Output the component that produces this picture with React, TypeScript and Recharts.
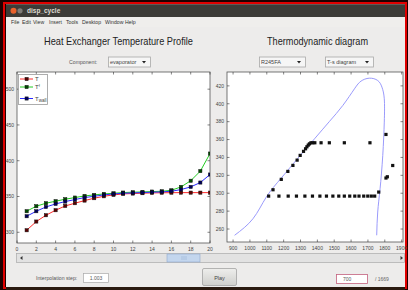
import React from "react";
import { LineChart, Line, XAxis, YAxis, ComposedChart, Scatter, Legend } from "recharts";

// ---------- Heat exchanger temperature profile ----------
const hxPositions = [1, 2, 3, 4, 5, 6, 7, 8, 9, 10, 11, 12, 13, 14, 15, 16, 17, 18, 19, 20];
const tFluid = [302.8, 315, 323.8, 330.8, 336.8, 340.6, 344.3, 347.6, 350.3, 352.2, 353.6, 354.1, 354.6, 355, 355.2, 355.3, 355.4, 355.4, 355.4, 355.4];
const tSecondary = [329.4, 336.4, 340.6, 343.4, 346.2, 348.5, 350.8, 352.2, 353.6, 354.5, 355.5, 356, 356.4, 356.9, 357.3, 358.7, 363.4, 372, 385.5, 410];
const tWall = [322.4, 329.4, 335.4, 339.6, 342.9, 345.7, 348.5, 350.3, 352.2, 353.6, 354.5, 355, 355.5, 356, 356.4, 357.3, 359.7, 363.4, 369.5, 380.7];
const hxXTicks = [0, 2, 4, 6, 8, 10, 12, 14, 16, 18, 20];
const hxYTicks = [300, 350, 400, 450, 500];
const seriesNames = ["T", "Tf", "Twall"];

// ---------- T-s diagram ----------
const domeS = [909, 1018, 1097, 1186, 1285, 1383, 1472, 1551, 1620, 1659, 1708, 1758, 1783, 1797, 1797, 1788, 1772, 1758, 1752];
const domeT = [253, 271.5, 295.7, 317, 339.3, 360.8, 380.3, 398.1, 416.7, 425.3, 428.6, 426, 418.6, 405.5, 379.5, 342.3, 305, 279, 253];
const cycleS = [
  1111, 1172, 1227, 1276, 1326, 1371, 1415, 1454, 1492, 1527, 1560, 1592, 1622, 1647, 1675, 1699, 1720, 1740,
  1137, 1186, 1225, 1255, 1280, 1298, 1318, 1330, 1338, 1346, 1353,
  1362, 1373, 1385, 1422, 1471, 1560, 1712,
  1764, 1807, 1815, 1847, 1807,
];
const cycleT = [
  296.8, 296.8, 296.8, 296.8, 296.8, 296.8, 296.8, 296.8, 296.8, 296.8, 296.8, 296.8, 296.8, 296.8, 296.8, 296.8, 296.8, 296.8,
  303.9, 315.5, 324.4, 331.1, 337, 342.3, 346.8, 349.7, 351.9, 353.8, 355.2,
  356.4, 356.4, 356.4, 356.4, 356.4, 356.4, 356.4,
  301.3, 317, 318.4, 331, 365.7,
];
const tsXTicks = [900, 1000, 1100, 1200, 1300, 1400, 1500, 1600, 1700, 1800, 1900];
const tsYTicks = [260, 280, 300, 320, 340, 360, 380, 400, 420];

const menuItems = ["File", "Edit", "View", "Insert", "Tools", "Desktop", "Window", "Help"];
const menuX = [11, 22, 33, 49, 66, 82, 105, 125];

const hxData = hxPositions.map((p, i) => ({ pos: p, T: tFluid[i], Tf: tSecondary[i], Tw: tWall[i] }));
const domeData = domeS.map((s, i) => ({ s, T: domeT[i] }));
const cycleData = cycleS.map((s, i) => ({ s, T: cycleT[i] }));

const COLORS = ["#ff2a2a", "#22cc22", "#2a2aff"];
const DARK = ["#5a0000", "#004a00", "#00005a"];
const FONT = "'Liberation Sans', Arial, sans-serif";

const makeXTick = (top: number, bottom: number) => (props: any) => {
  const { x, payload } = props;
  return (
    <g>
      <line x1={x} x2={x} y1={bottom} y2={bottom - 2.5} stroke="#333" strokeWidth={0.6} />
      <line x1={x} x2={x} y1={top} y2={top + 2.5} stroke="#333" strokeWidth={0.6} />
      <text x={x} y={bottom + 8} textAnchor="middle" fontSize={5} fill="#444" fontFamily={FONT}>
        {payload.value}
      </text>
    </g>
  );
};

const makeYTick = (left: number, right: number) => (props: any) => {
  const { y, payload } = props;
  return (
    <g>
      <line x1={left} x2={left + 2.5} y1={y} y2={y} stroke="#333" strokeWidth={0.6} />
      <line x1={right} x2={right - 2.5} y1={y} y2={y} stroke="#333" strokeWidth={0.6} />
      <text x={left - 3} y={y + 1.8} textAnchor="end" fontSize={5} fill="#444" fontFamily={FONT}>
        {payload.value}
      </text>
    </g>
  );
};

const squareDot = (i: number) => (props: any) => {
  const { cx, cy, index } = props;
  if (cx == null || cy == null) return <g key={`d${i}-${index}`} />;
  return (
    <rect key={`d${i}-${index}`} x={cx - 1.6} y={cy - 1.6} width={3.2} height={3.2} fill={DARK[i]} stroke="#111" strokeWidth={0.5} />
  );
};

const legendContent = () => (
  <svg width={30} height={31} style={{ display: "block" }}>
    <rect x={0.5} y={0.5} width={29} height={30} fill="#fff" stroke="#999" strokeWidth={0.8} />
    {seriesNames.map((n, i) => {
      const yy = [5, 13, 24.5][i];
      return (
        <g key={n}>
          <line x1={2} x2={15} y1={yy} y2={yy} stroke={COLORS[i]} strokeWidth={1} />
          <rect x={7} y={yy - 1.6} width={3.2} height={3.2} fill={DARK[i]} stroke="#111" strokeWidth={0.5} />
          <text x={17} y={yy + 2} fontSize={6} fill="#444" fontFamily={FONT}>
            T
            {i === 1 ? <tspan fontSize={4} dy={-2}>f</tspan> : null}
            {i === 2 ? <tspan fontSize={4.5} dy={1.5}>wall</tspan> : null}
          </text>
        </g>
      );
    })}
  </svg>
);

const Dropdown = ({ x, y, w, label }: { x: number; y: number; w: number; label: string }) => (
  <g>
    <rect x={x + 0.5} y={y + 0.5} width={w} height={10} fill="#f6f6f6" stroke="#a8a8a8" strokeWidth={0.8} />
    <text x={x + 2} y={y + 7.5} fontSize={5.5} fill="#444" fontFamily={FONT}>{label}</text>
    <path d={`M${x + w - 8} ${y + 4.5} L${x + w - 4} ${y + 4.5} L${x + w - 6} ${y + 7} Z`} fill="#222" />
  </g>
);

export default function App() {
  return (
    <div style={{ position: "fixed", left: 0, top: 0, width: 408, height: 290, overflow: "hidden", background: "#1a0000" }}>
      <svg width={408} height={290} style={{ position: "absolute", left: 0, top: 0 }}>
        <rect x={0} y={0} width={408} height={290} fill="#200000" />
        <rect x={4} y={3} width={402} height={285} fill="none" stroke="#e00000" strokeWidth={2} />
        <rect x={6} y={4.5} width={399} height={283} fill="#edeceb" />
        {/* title bar */}
        <rect x={6} y={4.5} width={399} height={12.5} fill="#3c3b37" />
        <circle cx={13.5} cy={10.8} r={3} fill="#e8612c" />
        <circle cx={20} cy={10.8} r={2.6} fill="#7d7b76" />
        <text x={27} y={13} fontSize={6.5} fill="#dfdbd2" fontFamily={FONT} fontWeight="bold">disp_cycle</text>
        {/* menu */}
        <rect x={6} y={17} width={399} height={10} fill="#efeeec" />
        {menuItems.map((m, i) => (
          <text key={m} x={menuX[i]} y={24} fontSize={5.2} fill="#333" fontFamily={FONT}>{m}</text>
        ))}
        <text x={44} y={45} fontSize={11} fill="#222" fontFamily={FONT} textLength={149} lengthAdjust="spacingAndGlyphs">Heat Exchanger Temperature Profile</text>
        <text x={267} y={45} fontSize={11} fill="#222" fontFamily={FONT} textLength={101} lengthAdjust="spacingAndGlyphs">Thermodynamic diagram</text>
        <text x={69} y={64} fontSize={5.2} fill="#555" fontFamily={FONT}>Component:</text>
        <Dropdown x={108} y={56.5} w={42} label="evaporator" />
        <Dropdown x={259} y={56.5} w={46} label="R245FA" />
        <Dropdown x={325} y={56.5} w={48} label="T-s diagram" />
        {/* plot boxes */}
        <rect x={17} y={72} width={193} height={171} fill="#fff" stroke="#555" strokeWidth={0.8} />
        <rect x={227} y={72} width={176} height={170} fill="#fff" stroke="#555" strokeWidth={0.8} />
        {/* slider */}
        <rect x={16.5} y={253.5} width={388} height={9} fill="#e2e2e2" stroke="#aaa" strokeWidth={0.7} />
        <path d="M20 258 L22.5 256 L22.5 260 Z" fill="#333" />
        <path d="M403 258 L400.5 256 L400.5 260 Z" fill="#333" />
        <rect x={167} y={254} width={33} height={8} fill="#c3d6ee" stroke="#8fa8cc" strokeWidth={0.6} />
        <line x1={182} x2={182} y1={256} y2={260} stroke="#8fa8cc" strokeWidth={0.5} />
        <line x1={184} x2={184} y1={256} y2={260} stroke="#8fa8cc" strokeWidth={0.5} />
        <line x1={186} x2={186} y1={256} y2={260} stroke="#8fa8cc" strokeWidth={0.5} />
        {/* bottom controls */}
        <text x={36} y={280} fontSize={5.2} fill="#555" fontFamily={FONT}>Interpolation step:</text>
        <rect x={83.5} y={273.5} width={25} height={9} fill="#fff" stroke="#aaa" strokeWidth={0.7} />
        <text x={96} y={280} fontSize={5} fill="#555" textAnchor="middle" fontFamily={FONT}>1.003</text>
        <defs>
          <linearGradient id="btn" x1="0" y1="0" x2="0" y2="1">
            <stop offset="0" stopColor="#eeeeec" />
            <stop offset="1" stopColor="#cfcfcc" />
          </linearGradient>
        </defs>
        <rect x={202.5} y={268.5} width={34} height={17} rx={1.5} fill="url(#btn)" stroke="#999" strokeWidth={0.7} />
        <text x={219.5} y={279.5} fontSize={5.5} fill="#444" textAnchor="middle" fontFamily={FONT}>Play</text>
        <rect x={336.5} y={274.5} width={31} height={9} fill="#fff" stroke="#c2607e" strokeWidth={0.8} />
        <text x={343} y={281} fontSize={5} fill="#555" fontFamily={FONT}>700</text>
        <text x={375} y={281} fontSize={5} fill="#666" fontFamily={FONT}>/ 1669</text>
        <rect x={6} y={287} width={399} height={3} fill="#2a1a10" />
      </svg>

      <div style={{ position: "absolute", left: 0, top: 60 }}>
        <LineChart width={214} height={200} data={hxData} margin={{ top: 12, right: 4, bottom: 5, left: 0 }}>
          <XAxis
            dataKey="pos"
            type="number"
            domain={[0, 20]}
            ticks={hxXTicks}
            allowDataOverflow
            axisLine={false}
            tickLine={false}
            tickSize={0}
            height={12}
            interval={0}
            tick={makeXTick(12, 183)}
          />
          <YAxis
            type="number"
            domain={[285, 524]}
            ticks={hxYTicks}
            allowDataOverflow
            axisLine={false}
            tickLine={false}
            tickSize={0}
            width={17}
            interval={0}
            tick={makeYTick(17, 210)}
          />
          <Legend layout="vertical" align="center" verticalAlign="middle" wrapperStyle={{ left: 18, top: 14, width: 30, height: 31 }} content={legendContent} />
          <Line dataKey="T" name={seriesNames[0]} stroke={COLORS[0]} strokeWidth={1} dot={squareDot(0)} isAnimationActive={false} />
          <Line dataKey="Tf" name={seriesNames[1]} stroke={COLORS[1]} strokeWidth={1} dot={squareDot(1)} isAnimationActive={false} />
          <Line dataKey="Tw" name={seriesNames[2]} stroke={COLORS[2]} strokeWidth={1} dot={squareDot(2)} isAnimationActive={false} />
        </LineChart>
      </div>

      <div style={{ position: "absolute", left: 212, top: 60 }}>
        <ComposedChart width={196} height={200} margin={{ top: 12, right: 5, bottom: 6, left: 0 }}>
          <XAxis
            dataKey="s"
            type="number"
            domain={[864, 1908]}
            ticks={tsXTicks}
            allowDataOverflow
            axisLine={false}
            tickLine={false}
            tickSize={0}
            height={12}
            interval={0}
            tick={makeXTick(12, 182)}
          />
          <YAxis
            dataKey="T"
            type="number"
            domain={[245.5, 435.5]}
            ticks={tsYTicks}
            allowDataOverflow
            axisLine={false}
            tickLine={false}
            tickSize={0}
            width={15}
            interval={0}
            tick={makeYTick(15, 191)}
          />
          <Line data={domeData} dataKey="T" type="natural" stroke="#8e8efa" strokeWidth={0.9} dot={false} isAnimationActive={false} />
          <Scatter
            data={cycleData}
            dataKey="T"
            fill="#000"
            isAnimationActive={false}
            shape={(p: any) => <rect x={p.cx - 1.6} y={p.cy - 1.6} width={3.2} height={3.2} fill="#111" />}
          />
        </ComposedChart>
      </div>
    </div>
  );
}
